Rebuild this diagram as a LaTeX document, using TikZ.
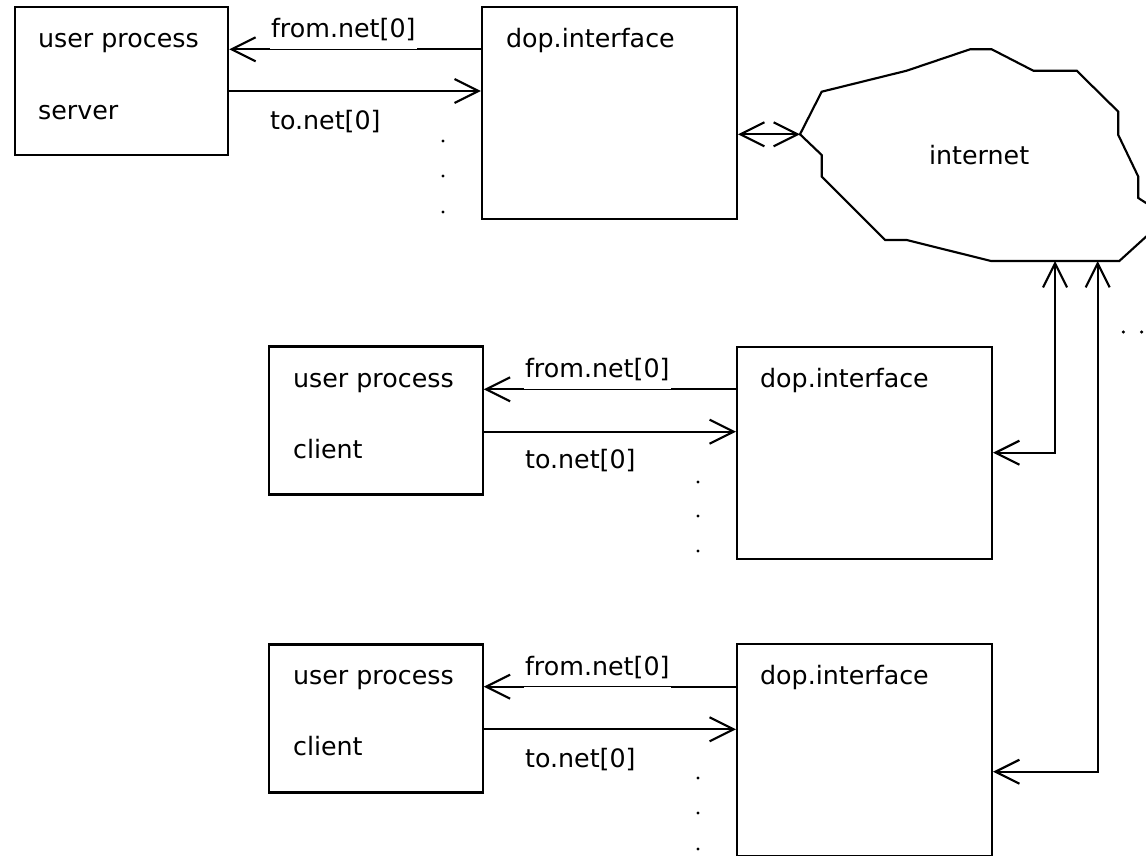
\documentclass[tikz,border=0pt]{standalone}
\usepackage{fontspec}
\setmainfont{DejaVu Sans}
\usetikzlibrary{arrows.meta}

\begin{document}
\begin{tikzpicture}[x=0.75pt, y=-0.75pt, line width=1.6pt,
        font=\fontsize{19}{23}\selectfont,
        proc/.style={draw, rectangle, minimum width=160pt, minimum height=111pt, inner sep=0pt},
        dop/.style={draw, rectangle, minimum width=191.25pt, minimum height=159pt, inner sep=0pt},
        txt/.style={anchor=base west, inner sep=0pt},
        thinline/.style={line width=0.6pt},
        >={Straight Barb[length=18pt, width=18pt]}]
        \useasboundingbox (0, 0) rectangle (1146, 856);
        % Boxes
        \node (u0) at (121.5, 81) [proc] {};
        \node (u1) at (376, 420.5) [proc] {};
        \node (u2) at (376, 718.5) [proc] {};
        \node (d0) at (609.5, 113) [dop] {};
        \node (d1) at (864.5, 453) [dop] {};
        \node (d2) at (864.5, 750) [dop] {};
        % Box texts
        \node (u0a) at (37, 48) [txt] {user process};
        \node (u0b) at (37, 119) [txt] {server};
        \node (u1a) at (292, 387) [txt] {user process};
        \node (u1b) at (292, 458) [txt] {client};
        \node (u2a) at (292, 684) [txt] {user process};
        \node (u2b) at (292, 755) [txt] {client};
        \node (d0a) at (505, 48) [txt] {dop.interface};
        \node (d1a) at (759, 387) [txt] {dop.interface};
        \node (d2a) at (759, 684) [txt] {dop.interface};
        % Internet cloud
        \draw[line join=miter] (800, 134.3) -- (821.7, 91.7) -- (906.7, 70.7) -- (970, 49.3)
            -- (991.7, 49.3) -- (1033.3, 70.7) -- (1076.7, 70.7) -- (1118.3, 111.7)
            -- (1118.3, 135) -- (1138.3, 176.7) -- (1138.3, 198) -- (1160, 212)
            -- (1160, 224) -- (1119.3, 261) -- (991, 261) -- (906.7, 240) -- (885, 240)
            -- (821.7, 176.7) -- (821.7, 155) -- cycle;
        \node (net) at (928, 164) [txt] {internet};
        \coordinate (cl) at (800, 134.3);
        \coordinate (cb1) at (1055, 261);
        \coordinate (cb2) at (1097.7, 261);
        \coordinate (k1) at (1055, 452.7);
        \coordinate (k2) at (1097.7, 771.7);
        % Labels
        \node (f0) at (270, 38) [txt] {from.net[0]};
        \node (t0) at (269, 129.5) [txt] {to.net[0]};
        \node (f1) at (524, 377) [txt] {from.net[0]};
        \node (t1) at (524, 468) [txt] {to.net[0]};
        \node (f2) at (524, 675) [txt] {from.net[0]};
        \node (t2) at (524, 767) [txt] {to.net[0]};
        % Arrows
        \draw (d0.west |- 0,49.3) -- (f0.east |- 0,49.3);
        \draw[thinline] (f0.east |- 0,49.3) -- (f0.west |- 0,49.3);
        \draw[->] (f0.west |- 0,49.3) -- (u0.east |- 0,49.3);
        \draw[->] (u0.east |- 0,91) -- (d0.west |- 0,91);
        \draw (d1.west |- 0,389.3) -- (f1.east |- 0,389.3);
        \draw[thinline] (f1.east |- 0,389.3) -- (f1.west |- 0,389.3);
        \draw[->] (f1.west |- 0,389.3) -- (u1.east |- 0,389.3);
        \draw[->] (u1.east |- 0,431.7) -- (d1.west |- 0,431.7);
        \draw (d2.west |- 0,686.7) -- (f2.east |- 0,686.7);
        \draw[thinline] (f2.east |- 0,686.7) -- (f2.west |- 0,686.7);
        \draw[->] (f2.west |- 0,686.7) -- (u2.east |- 0,686.7);
        \draw[->] (u2.east |- 0,729.3) -- (d2.west |- 0,729.3);
        \draw[<->] (d0.east |- cl) -- (cl);
        \draw[<->] (d1.east |- k1) -- (k1) -- (cb1);
        \draw[<->] (d2.east |- k2) -- (k2) -- (cb2);
        % Dots
        \fill (443, 141) circle (1.3pt) (443, 176) circle (1.3pt) (443, 212) circle (1.3pt);
        \fill (698, 482) circle (1.3pt) (698, 516) circle (1.3pt) (698, 551) circle (1.3pt);
        \fill (698, 778) circle (1.3pt) (698, 813) circle (1.3pt) (698, 849) circle (1.3pt);
        \fill (1123.3, 332) circle (1.3pt) (1141.7, 332) circle (1.3pt);
    \end{tikzpicture}
\end{document}
